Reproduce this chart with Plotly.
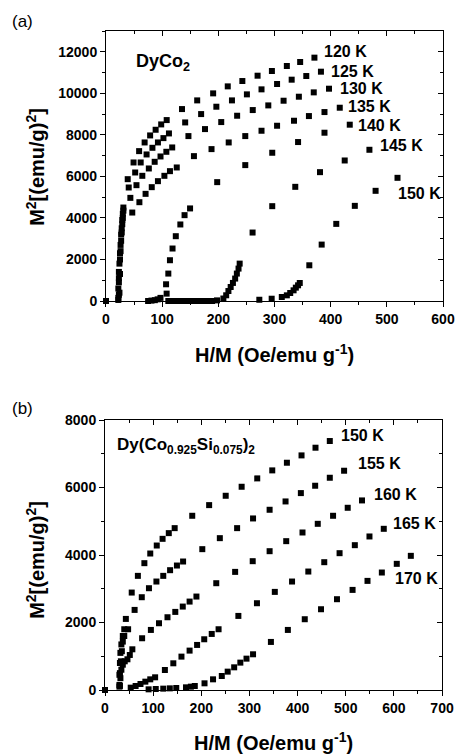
import plotly.graph_objects as go

# ---------------- Panel (a): DyCo2 ----------------
a120_x = [0, 22, 22, 23, 25, 27, 29, 31, 38.7, 49.1, 59.0, 68.8, 78.6, 88.4, 98.3, 108.1, 135.3, 162.4, 190.8, 216.8, 242.8, 269.9, 295.4, 322.0, 345.7, 371.1]
a120_y = [0, 50, 600, 1400, 2300, 3200, 3900, 4500, 5866, 6670, 7216, 7634, 7972, 8245, 8502, 8711, 9241, 9659, 9997, 10334, 10591, 10848, 11073, 11315, 11508, 11717]

a125_x = [0, 22, 23, 24, 26, 28, 30, 40.5, 52.0, 61.8, 72.3, 82.7, 92.5, 102.3, 112.1, 141.0, 169.4, 196.5, 224.3, 250.9, 276.9, 304.6, 330.6, 356.6, 382.7]
a125_y = [0, 150, 900, 1800, 2700, 3500, 4200, 5465, 6188, 6670, 7056, 7377, 7634, 7843, 8068, 8598, 9000, 9354, 9659, 9949, 10190, 10447, 10656, 10832, 11041]

a130_x = [0, 23, 23, 25, 27, 29, 31, 43.4, 54.3, 64.7, 76.3, 86.7, 97.1, 107.5, 117.9, 146.8, 176.3, 205.2, 233.5, 261.3, 289.0, 316.2, 343.4, 369.9, 397.1]
a130_y = [0, 300, 1100, 2000, 2900, 3700, 4350, 4966, 5577, 6027, 6381, 6702, 6959, 7184, 7393, 7940, 8277, 8615, 8920, 9193, 9418, 9643, 9836, 10045, 10222]

a135_x = [0, 24, 25, 26, 28, 30, 46.8, 59.5, 70.5, 81.5, 92.5, 104.0, 113.9, 126.0, 156.6, 187.9, 218.5, 248.0, 276.9, 304.6, 334.7, 361.3, 389.0, 416.2]
a135_y = [0, 400, 1300, 2400, 3300, 4000, 4259, 4757, 5159, 5481, 5770, 6027, 6252, 6429, 6975, 7313, 7634, 7940, 8197, 8438, 8679, 8904, 9097, 9306]

a140_x = [0, 75, 81, 87, 92, 97, 108, 107, 111, 113.9, 118.5, 124.3, 132.4, 139.9, 149.7, 198, 248, 296, 342, 389, 434]
a140_y = [0, 0, 20, 40, 80, 150, 355, 805, 1320, 1963, 2527, 3120, 3685, 4133, 4457, 5723, 6543, 7138, 7653, 8103, 8489]

a145_x = [0, 111, 117, 123, 129, 135, 141, 147, 153, 159, 165, 171, 177, 183, 189, 197.7, 209, 214, 218, 222, 226, 230, 233, 236, 238, 261, 296, 337, 381, 425, 469]
a145_y = [0, 0, 0, 0, 0, 0, 0, 0, 0, 0, 0, 0, 0, 0, 0, 30, 120, 275, 480, 675, 870, 1080, 1320, 1560, 1800, 3296, 4566, 5497, 6204, 6766, 7281]

a150_x = [0, 273, 295, 313, 322, 328, 334, 338, 342, 345, 362, 384, 410, 443, 480, 519]
a150_y = [0, 60, 110, 193, 273, 386, 514, 643, 755, 868, 1720, 2716, 3713, 4581, 5305, 5931]

a_labels = ["120 K", "125 K", "130 K", "135 K", "140 K", "145 K", "150 K"]
a_label_x = [384, 397, 413, 428, 445, 485, 517]
a_label_y = [11996, 11031, 10211, 9343, 8474, 7510, 5195]

# ---------------- Panel (b): Dy(Co0.925Si0.075)2 ----------------
b150_x = [0, 30, 30, 31, 32, 34, 37, 40, 43.3, 55.5, 68.3, 81.8, 94.0, 107.5, 119.6, 132.5, 144.7, 181.2, 216.3, 250.7, 283.8, 316.2, 347.4, 377.8, 408.2, 437.2, 466.9]
b150_y = [0, 100, 450, 800, 1100, 1350, 1600, 1800, 2106, 2887, 3382, 3758, 4044, 4281, 4479, 4648, 4796, 5162, 5478, 5755, 6022, 6270, 6507, 6734, 6951, 7179, 7377]

b155_x = [0, 30, 31, 33, 35, 37, 40, 48.0, 61.5, 76.4, 91.3, 106.8, 121.0, 135.2, 149.4, 162.2, 202.1, 238.5, 274.4, 307.5, 341.9, 375.0, 406.8, 436.5, 466.9, 496.6]
b155_y = [0, 150, 500, 850, 1150, 1434, 1600, 1800, 2373, 2749, 3016, 3214, 3382, 3550, 3688, 3807, 4173, 4499, 4796, 5083, 5340, 5587, 5834, 6052, 6289, 6497]

b160_x = [0, 31, 32, 34, 37, 41, 46.6, 51.5, 56.8, 77.1, 95.3, 112.2, 129.8, 146.0, 161.5, 175.7, 189.9, 231.1, 270.3, 306.8, 341.9, 376.4, 410.2, 441.9, 473.7, 504.1, 533.8]
b160_y = [0, 120, 350, 600, 750, 850, 910, 1038, 1206, 1533, 1780, 1978, 2156, 2314, 2472, 2620, 2769, 3164, 3500, 3817, 4113, 4410, 4667, 4924, 5162, 5399, 5617]

b165_x = [0, 53.4, 63.6, 73.7, 83.8, 94.0, 104.1, 124.4, 141.9, 158.8, 175.7, 191.3, 206.1, 221.7, 235.9, 277.0, 315.6, 352.7, 388.5, 422.3, 455.4, 487.2, 518.9, 549.3, 579.0]
b165_y = [0, 69, 119, 178, 247, 316, 376, 593, 791, 989, 1167, 1335, 1503, 1661, 1800, 2195, 2571, 2907, 3214, 3510, 3787, 4054, 4291, 4549, 4776]

b170_x = [0, 90.6, 105.4, 121.0, 134.6, 148.0, 168.2, 178.4, 186.5, 206.7, 224.4, 242.6, 254.8, 268.3, 281.1, 293.9, 307.5, 344.6, 379.8, 414.9, 448.7, 481.8, 514.2, 545.2, 575.0, 606.0, 635.2]
b170_y = [0, 20, 30, 40, 49, 59, 79, 99, 119, 198, 316, 415, 544, 672, 811, 929, 1058, 1424, 1780, 2097, 2393, 2690, 2966, 3233, 3481, 3738, 3975]

b_labels = ["150 K", "155 K", "160 K", "165 K", "170 K"]
b_label_x = [487, 522, 554, 595, 599]
b_label_y = [7535, 6705, 5784, 4945, 3313]

a_ticks_x = [0, 100, 200, 300, 400, 500, 600]
a_ticks_y = [0, 2000, 4000, 6000, 8000, 10000, 12000]
b_ticks_x = [0, 100, 200, 300, 400, 500, 600, 700]
b_ticks_y = [0, 2000, 4000, 6000, 8000]

# ---------------- figure ----------------
W, H = 467, 755
L, R, T, B = 105, 15, 31, 65
PW = W - L - R
PH = H - T - B

def px_x(px):
    return (px - L) / PW

def px_y(py):
    return (H - B - py) / PH

fig = go.Figure()
MK = dict(symbol="square", size=6, color="black", line=dict(width=0))

for xs, ys in [(a120_x, a120_y), (a125_x, a125_y), (a130_x, a130_y), (a135_x, a135_y),
               (a140_x, a140_y), (a145_x, a145_y), (a150_x, a150_y)]:
    fig.add_trace(go.Scatter(x=xs, y=ys, mode="markers", marker=MK, xaxis="x", yaxis="y",
                             cliponaxis=False, showlegend=False, hoverinfo="skip"))
for xs, ys in [(b150_x, b150_y), (b155_x, b155_y), (b160_x, b160_y), (b165_x, b165_y), (b170_x, b170_y)]:
    fig.add_trace(go.Scatter(x=xs, y=ys, mode="markers", marker=MK, xaxis="x2", yaxis="y2",
                             cliponaxis=False, showlegend=False, hoverinfo="skip"))
# helper empty traces so mirrored tick axes render
for xa, ya in [("x3", "y3"), ("x4", "y4")]:
    fig.add_trace(go.Scatter(x=[None], y=[None], mode="markers", xaxis=xa, yaxis=ya,
                             showlegend=False, hoverinfo="skip"))

TF = dict(family="Liberation Sans, Arial", size=14, color="black", weight="bold")
dom_a_y = [px_y(301), px_y(31)]
dom_b_y = [px_y(690), px_y(420)]
dom_a_x = [px_x(106), px_x(452)]
dom_b_x = [px_x(105), px_x(451)]

def main_axis(dom, rng, tv, minor_dtick, anchor):
    return dict(domain=dom, range=rng, tickvals=tv, ticktext=[str(v) for v in tv],
                ticks="outside", ticklen=5, tickwidth=1,
                tickcolor="black", showline=True, linecolor="black", linewidth=1, mirror=True,
                showgrid=False, zeroline=False, tickfont=TF, anchor=anchor,
                minor=dict(dtick=minor_dtick, ticks="outside", ticklen=3, tickcolor="black", showgrid=False))

def mirror_axis(dom, rng, tv, minor_dtick, overlay, side, anchor):
    return dict(domain=dom, range=rng, tickvals=tv, ticks="inside", ticklen=5, tickwidth=1,
                tickcolor="black", showline=False, showgrid=False, zeroline=False,
                showticklabels=False, overlaying=overlay, side=side, anchor=anchor,
                minor=dict(dtick=minor_dtick, ticks="inside", ticklen=3, tickcolor="black", showgrid=False))

fig.update_layout(
    width=W, height=H, margin=dict(l=L, r=R, t=T, b=B),
    paper_bgcolor="white", plot_bgcolor="white",
    xaxis=main_axis(dom_a_x, [0, 600], a_ticks_x, 50, "y"),
    yaxis=main_axis(dom_a_y, [0, 13000], a_ticks_y, 1000, "x"),
    xaxis2=main_axis(dom_b_x, [0, 700], b_ticks_x, 50, "y2"),
    yaxis2=main_axis(dom_b_y, [0, 8000], b_ticks_y, 1000, "x2"),
    xaxis3=mirror_axis(dom_a_x, [0, 600], a_ticks_x, 50, "x", "top", "y"),
    yaxis3=mirror_axis(dom_a_y, [0, 13000], a_ticks_y, 1000, "y", "right", "x"),
    xaxis4=mirror_axis(dom_b_x, [0, 700], b_ticks_x, 50, "x2", "top", "y2"),
    yaxis4=mirror_axis(dom_b_y, [0, 8000], b_ticks_y, 1000, "y2", "right", "x2"),
)

LF = dict(family="Liberation Sans, Arial", size=16, color="black")
ann = []
for t, x, y in zip(a_labels, a_label_x, a_label_y):
    ann.append(dict(text="<b>%s</b>" % t, x=x, y=y, xref="x", yref="y", xanchor="left",
                    yanchor="middle", showarrow=False, font=LF))
for t, x, y in zip(b_labels, b_label_x, b_label_y):
    ann.append(dict(text="<b>%s</b>" % t, x=x, y=y, xref="x2", yref="y2", xanchor="left",
                    yanchor="middle", showarrow=False, font=LF))

ann.append(dict(text="<b>DyCo<sub>2</sub></b>", x=50, y=11500, xref="x", yref="y", xanchor="left",
                yanchor="middle", showarrow=False, font=dict(family="Liberation Sans, Arial", size=18, color="black")))
ann.append(dict(text="<b>Dy(Co<sub>0.925</sub>Si<sub>0.075</sub>)<sub>2</sub></b>", x=20, y=7238, xref="x2", yref="y2",
                xanchor="left", yanchor="middle", showarrow=False,
                font=dict(family="Liberation Sans, Arial", size=17, color="black")))

TitF = dict(family="Liberation Sans, Arial", size=20, color="black")
xt = "<b>H/M (Oe/emu g<sup>-1</sup>)</b>"
yt = "<b>M<sup>2</sup>[(emu/g)<sup>2</sup>]</b>"
ann.append(dict(text=xt, x=px_x(279), y=px_y(353), xref="paper", yref="paper", xanchor="center",
                yanchor="middle", showarrow=False, font=TitF))
ann.append(dict(text=xt, x=px_x(278), y=px_y(742), xref="paper", yref="paper", xanchor="center",
                yanchor="middle", showarrow=False, font=TitF))
ann.append(dict(text=yt, x=px_x(33), y=px_y(167), xref="paper", yref="paper", xanchor="center",
                yanchor="middle", textangle=-90, showarrow=False, font=TitF))
ann.append(dict(text=yt, x=px_x(33), y=px_y(560), xref="paper", yref="paper", xanchor="center",
                yanchor="middle", textangle=-90, showarrow=False, font=TitF))

PF = dict(family="Liberation Sans, Arial", size=17, color="black")
ann.append(dict(text="(a)", x=px_x(20), y=px_y(21), xref="paper", yref="paper", xanchor="center",
                yanchor="middle", showarrow=False, font=PF))
ann.append(dict(text="(b)", x=px_x(20), y=px_y(408), xref="paper", yref="paper", xanchor="center",
                yanchor="middle", showarrow=False, font=PF))

fig.update_layout(annotations=ann)
fig.write_html("out.html", config={"displayModeBar": False},
               post_script="document.body.style.margin='0';document.body.style.overflow='hidden';")
